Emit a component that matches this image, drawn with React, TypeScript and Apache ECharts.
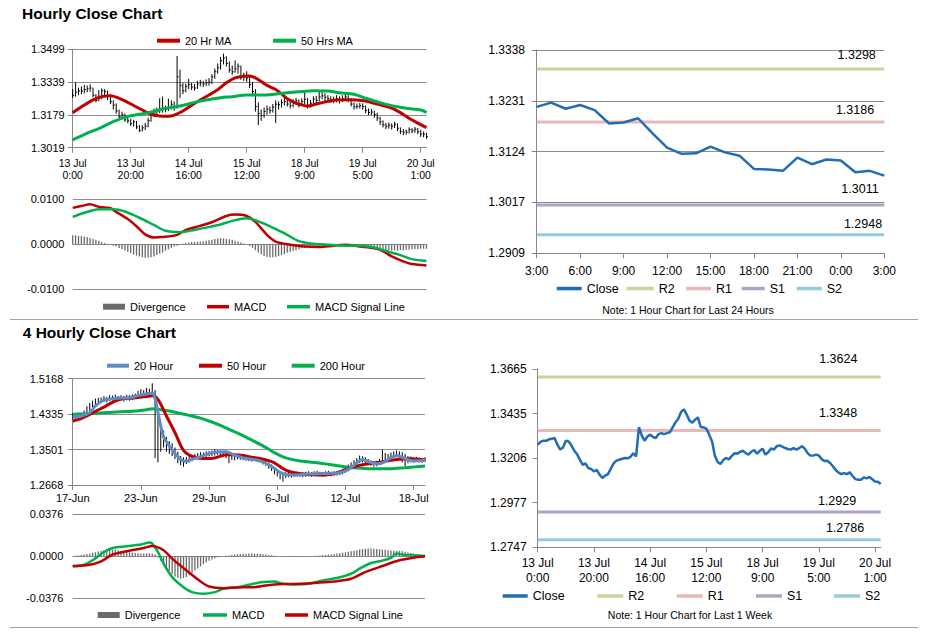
import React, { useEffect, useRef } from "react";
import * as echarts from "echarts";

// ---------------- DATA ----------------
// Hourly (1 week) axis labels, every 20 hourly bars
const weekLabels = ["13 Jul\n0:00", "13 Jul\n20:00", "14 Jul\n16:00", "15 Jul\n12:00", "18 Jul\n9:00", "19 Jul\n5:00", "20 Jul\n1:00"];
// hourly close, 13 Jul 0:00 -> 20 Jul ~3:00
const closeWeek = [
  1.3275, 1.3290, 1.3296, 1.3295, 1.3303, 1.3306, 1.3310, 1.3275, 1.3250, 1.3261,
  1.3296, 1.3292, 1.3272, 1.3244, 1.3227, 1.3198, 1.3172, 1.3179, 1.3155, 1.3150,
  1.3138, 1.3145, 1.3121, 1.3104, 1.3116, 1.3124, 1.3152, 1.3179, 1.3193, 1.3198,
  1.3203, 1.3207, 1.3205, 1.3213, 1.3231, 1.3215, 1.3365, 1.3323, 1.3296, 1.3317,
  1.3327, 1.3315, 1.3310, 1.3330, 1.3335, 1.3330, 1.3335, 1.3339, 1.3365, 1.3390,
  1.3409, 1.3444, 1.3457, 1.3430, 1.3399, 1.3389, 1.3404, 1.3416, 1.3365, 1.3365,
  1.3358, 1.3327, 1.3293, 1.3220, 1.3186, 1.3176, 1.3196, 1.3207, 1.3200, 1.3217,
  1.3231, 1.3229, 1.3238, 1.3244, 1.3232, 1.3224, 1.3239, 1.3248, 1.3229, 1.3244,
  1.3255, 1.3224, 1.3236, 1.3256, 1.3250, 1.3267, 1.3272, 1.3265, 1.3258, 1.3253,
  1.3250, 1.3258, 1.3250, 1.3258, 1.3267, 1.3255, 1.3232, 1.3219, 1.3220, 1.3224,
  1.3220, 1.3201, 1.3191, 1.3193, 1.3181, 1.3164, 1.3145, 1.3131, 1.3124, 1.3129,
  1.3124, 1.3133, 1.3114, 1.3098, 1.3095, 1.3095, 1.3107, 1.3102, 1.3109, 1.3097,
  1.3086, 1.3085, 1.3073,
];
const highWeek = [
  1.3305, 1.3338, 1.3312, 1.3318, 1.3325, 1.3322, 1.3328, 1.3312, 1.3280, 1.3300,
  1.3308, 1.3305, 1.3298, 1.3278, 1.3250, 1.3235, 1.3205, 1.3195, 1.3186, 1.3168,
  1.3160, 1.3155, 1.3150, 1.3130, 1.3128, 1.3140, 1.3165, 1.3190, 1.3210, 1.3215,
  1.3260, 1.3268, 1.3225, 1.3258, 1.3250, 1.3245, 1.3466, 1.3400, 1.3335, 1.3332,
  1.3355, 1.3335, 1.3330, 1.3345, 1.3350, 1.3345, 1.3352, 1.3358, 1.3378, 1.3405,
  1.3430, 1.3462, 1.3478, 1.3465, 1.3440, 1.3420, 1.3445, 1.3430, 1.3420, 1.3385,
  1.3392, 1.3372, 1.3340, 1.3305, 1.3240, 1.3205, 1.3215, 1.3225, 1.3220, 1.3232,
  1.3250, 1.3245, 1.3255, 1.3262, 1.3255, 1.3245, 1.3255, 1.3262, 1.3255, 1.3260,
  1.3290, 1.3262, 1.3252, 1.3270, 1.3272, 1.3300, 1.3290, 1.3285, 1.3275, 1.3270,
  1.3268, 1.3275, 1.3270, 1.3275, 1.3282, 1.3275, 1.3260, 1.3240, 1.3235, 1.3238,
  1.3235, 1.3225, 1.3210, 1.3208, 1.3200, 1.3190, 1.3170, 1.3152, 1.3140, 1.3142,
  1.3138, 1.3145, 1.3138, 1.3118, 1.3110, 1.3108, 1.3118, 1.3115, 1.3120, 1.3115,
  1.3105, 1.3098, 1.3092,
];
const lowWeek = [
  1.3262, 1.3268, 1.3275, 1.3280, 1.3284, 1.3290, 1.3292, 1.3265, 1.3240, 1.3245,
  1.3255, 1.3270, 1.3252, 1.3232, 1.3205, 1.3185, 1.3160, 1.3158, 1.3145, 1.3138,
  1.3125, 1.3122, 1.3110, 1.3095, 1.3098, 1.3105, 1.3118, 1.3145, 1.3170, 1.3180,
  1.3188, 1.3190, 1.3192, 1.3198, 1.3205, 1.3200, 1.3210, 1.3262, 1.3280, 1.3290,
  1.3305, 1.3300, 1.3298, 1.3305, 1.3318, 1.3315, 1.3320, 1.3322, 1.3330, 1.3355,
  1.3380, 1.3400, 1.3425, 1.3415, 1.3385, 1.3375, 1.3385, 1.3380, 1.3350, 1.3345,
  1.3340, 1.3310, 1.3270, 1.3195, 1.3130, 1.3150, 1.3165, 1.3180, 1.3185, 1.3190,
  1.3140, 1.3205, 1.3215, 1.3225, 1.3220, 1.3210, 1.3215, 1.3228, 1.3215, 1.3222,
  1.3230, 1.3210, 1.3215, 1.3228, 1.3235, 1.3245, 1.3255, 1.3245, 1.3240, 1.3238,
  1.3235, 1.3240, 1.3235, 1.3242, 1.3248, 1.3240, 1.3220, 1.3205, 1.3208, 1.3210,
  1.3205, 1.3188, 1.3178, 1.3178, 1.3165, 1.3150, 1.3130, 1.3118, 1.3110, 1.3112,
  1.3108, 1.3115, 1.3100, 1.3085, 1.3080, 1.3082, 1.3088, 1.3090, 1.3092, 1.3085,
  1.3072, 1.3070, 1.3062,
];
const ma20HrIdx = [0, 4, 7, 10, 13, 15, 18, 21, 24, 27, 30, 33, 35, 38, 41, 44, 47, 50, 53, 56, 59, 61, 63, 65, 67, 70, 72, 74, 77, 79, 81, 83, 85, 88, 91, 95, 98, 101, 104, 107, 110, 113, 116, 119, 122];
const ma20Hr = [1.3190, 1.3227, 1.3252, 1.3268, 1.3273, 1.3266, 1.3247, 1.3225, 1.3203, 1.3182, 1.3174, 1.3172, 1.3178, 1.3198, 1.3226, 1.3252, 1.3276, 1.3302, 1.3336, 1.3360, 1.3368, 1.3369, 1.3360, 1.3342, 1.3323, 1.3303, 1.3282, 1.3258, 1.3237, 1.3228, 1.3222, 1.3228, 1.3236, 1.3245, 1.3252, 1.3253, 1.3252, 1.3247, 1.3235, 1.3225, 1.3212, 1.3190, 1.3163, 1.3139, 1.3117];
const ma50HrIdx = [0, 5, 9, 14, 19, 23, 28, 32, 37, 42, 46, 51, 55, 60, 65, 69, 74, 78, 83, 88, 92, 97, 101, 106, 111, 115, 120, 122];
const ma50Hr = [1.3057, 1.3090, 1.3112, 1.3146, 1.3172, 1.3182, 1.3196, 1.3211, 1.3222, 1.3240, 1.3252, 1.3263, 1.3268, 1.3276, 1.3276, 1.3279, 1.3287, 1.3292, 1.3297, 1.3296, 1.3287, 1.3280, 1.3260, 1.3239, 1.3221, 1.3211, 1.3203, 1.3190];
const macdHrIdx = [0, 3, 6, 9, 13, 15, 19, 22, 25, 28, 31, 36, 39, 44, 48, 53, 56, 60, 63, 67, 70, 75, 80, 85, 90, 94, 99, 104, 107, 110, 114, 117, 122];
const macdHr = [0.0081, 0.0085, 0.0089, 0.0083, 0.0080, 0.0072, 0.0056, 0.0040, 0.0022, 0.0015, 0.0016, 0.0021, 0.0032, 0.0041, 0.0049, 0.0063, 0.0066, 0.0063, 0.0050, 0.0021, 0.0006, -0.0001, -0.0005, -0.0006, -0.0003, -0.0001, -0.0005, -0.0009, -0.0015, -0.0027, -0.0038, -0.0044, -0.0047];
const signalHrIdx = [0, 4, 9, 14, 18, 23, 28, 32, 37, 42, 46, 51, 55, 60, 64, 69, 74, 78, 83, 88, 94, 99, 104, 108, 113, 117, 122];
const signalHr = [0.0061, 0.0070, 0.0078, 0.0078, 0.0073, 0.0059, 0.0043, 0.0030, 0.0027, 0.0032, 0.0037, 0.0044, 0.0052, 0.0058, 0.0051, 0.0037, 0.0021, 0.0007, 0.0001, -0.0001, -0.0003, -0.0003, -0.0007, -0.0015, -0.0024, -0.0033, -0.0037];
const divergenceHr = [
  0.0020, 0.0020, 0.0019, 0.0018, 0.0017, 0.0016, 0.0014, 0.0012, 0.0010, 0.0008,
  0.0005, 0.0003, 0.0001, -0.0001, -0.0003, -0.0005, -0.0008, -0.0011, -0.0014, -0.0017,
  -0.0020, -0.0023, -0.0025, -0.0027, -0.0029, -0.0030, -0.0030, -0.0029, -0.0027, -0.0024,
  -0.0021, -0.0018, -0.0014, -0.0011, -0.0008, -0.0005, -0.0003, -0.0001, 0.0001, 0.0003,
  0.0004, 0.0005, 0.0005, 0.0006, 0.0006, 0.0007, 0.0008, 0.0009, 0.0010, 0.0012,
  0.0013, 0.0014, 0.0013, 0.0012, 0.0011, 0.0010, 0.0008, 0.0006, 0.0004, 0.0002,
  0.0000, -0.0004, -0.0008, -0.0013, -0.0018, -0.0022, -0.0026, -0.0028, -0.0029, -0.0029,
  -0.0028, -0.0026, -0.0024, -0.0022, -0.0019, -0.0017, -0.0015, -0.0013, -0.0011, -0.0009,
  -0.0008, -0.0007, -0.0006, -0.0006, -0.0005, -0.0005, -0.0004, -0.0004, -0.0003, -0.0003,
  -0.0003, -0.0002, -0.0002, -0.0002, -0.0002, -0.0002, -0.0003, -0.0003, -0.0004, -0.0005,
  -0.0006, -0.0007, -0.0008, -0.0009, -0.0010, -0.0011, -0.0012, -0.0013, -0.0013, -0.0014,
  -0.0014, -0.0014, -0.0014, -0.0013, -0.0013, -0.0012, -0.0012, -0.0011, -0.0011, -0.0011,
  -0.0010, -0.0010, -0.0010,
];

// last 24 hours
const dayLabels = ["3:00", "6:00", "9:00", "12:00", "15:00", "18:00", "21:00", "0:00", "3:00"];
const close24 = [1.3218, 1.3227, 1.3214, 1.3222, 1.3211, 1.3183, 1.3185, 1.3194, 1.3162, 1.3132, 1.3119, 1.3120, 1.3134, 1.3122, 1.3115, 1.3087, 1.3086, 1.3083, 1.3111, 1.3097, 1.3107, 1.3105, 1.3080, 1.3083, 1.3073];
const levelNames = ["R2", "R1", "S1", "S2"];
const levels24 = [1.3298, 1.3186, 1.3011, 1.2948];
const levelsWeek = [1.3624, 1.3348, 1.2929, 1.2786];

// 4-hourly
const dateLabels4h = ["17-Jun", "23-Jun", "29-Jun", "6-Jul", "12-Jul", "18-Jul"];
const high4h = [
  1.4360, 1.4350, 1.4370, 1.4365, 1.4420, 1.4520, 1.4600, 1.4650, 1.4700, 1.4720,
  1.4730, 1.4760, 1.4740, 1.4780, 1.4770, 1.4790, 1.4760, 1.4780, 1.4760, 1.4790,
  1.4780, 1.4800, 1.4820, 1.4880, 1.4920, 1.4900, 1.4950, 1.4930, 1.5060, 1.4900,
  1.4450, 1.4100, 1.3950, 1.3800, 1.3700, 1.3650, 1.3550, 1.3450, 1.3350, 1.3320,
  1.3330, 1.3350, 1.3380, 1.3400, 1.3420, 1.3440, 1.3430, 1.3460, 1.3470, 1.3480,
  1.3510, 1.3490, 1.3480, 1.3470, 1.3450, 1.3430, 1.3400, 1.3390, 1.3370, 1.3360,
  1.3350, 1.3340, 1.3330, 1.3320, 1.3340, 1.3320, 1.3310, 1.3300, 1.3250, 1.3200,
  1.3150, 1.3080, 1.3020, 1.2980, 1.2950, 1.2970, 1.2980, 1.2960, 1.2970, 1.2980,
  1.2970, 1.2960, 1.2980, 1.2990, 1.2970, 1.2990, 1.3000, 1.2980, 1.2970, 1.2990,
  1.3000, 1.2980, 1.2990, 1.3000, 1.3020, 1.3050, 1.3100, 1.3150, 1.3200, 1.3250,
  1.3300, 1.3360, 1.3340, 1.3320, 1.3280, 1.3250, 1.3230, 1.3240, 1.3280, 1.3500,
  1.3420, 1.3400, 1.3430, 1.3460, 1.3480, 1.3460, 1.3440, 1.3400, 1.3350, 1.3340,
  1.3320, 1.3330, 1.3310, 1.3300, 1.3320,
];
const low4h = [
  1.4205, 1.4220, 1.4250, 1.4260, 1.4290, 1.4330, 1.4400, 1.4480, 1.4540, 1.4580,
  1.4600, 1.4620, 1.4610, 1.4640, 1.4650, 1.4660, 1.4640, 1.4650, 1.4630, 1.4660,
  1.4650, 1.4670, 1.4690, 1.4720, 1.4760, 1.4750, 1.4780, 1.4760, 1.4800, 1.3300,
  1.3200, 1.3450, 1.3550, 1.3450, 1.3400, 1.3350, 1.3280, 1.3180, 1.3130, 1.3100,
  1.3160, 1.3200, 1.3230, 1.3270, 1.3300, 1.3300, 1.3320, 1.3330, 1.3340, 1.3350,
  1.3360, 1.3380, 1.3350, 1.3340, 1.3300, 1.3180, 1.3260, 1.3250, 1.3270, 1.3260,
  1.3250, 1.3240, 1.3230, 1.3220, 1.3230, 1.3210, 1.3200, 1.3150, 1.3120, 1.3050,
  1.3000, 1.2920, 1.2870, 1.2800, 1.2750, 1.2830, 1.2850, 1.2840, 1.2860, 1.2870,
  1.2860, 1.2850, 1.2860, 1.2870, 1.2860, 1.2880, 1.2880, 1.2870, 1.2860, 1.2870,
  1.2890, 1.2870, 1.2880, 1.2890, 1.2900, 1.2920, 1.2960, 1.3000, 1.3050, 1.3080,
  1.3120, 1.3180, 1.3200, 1.3180, 1.3130, 1.3120, 1.3100, 1.3110, 1.3150, 1.3200,
  1.3250, 1.3260, 1.3280, 1.3300, 1.3320, 1.3300, 1.3200, 1.3100, 1.3180, 1.3200,
  1.3200, 1.3210, 1.3200, 1.3190, 1.3210,
];
const ma20_4hIdx = [0, 3, 6, 8, 11, 14, 17, 20, 23, 26, 28, 29, 30, 31, 32, 34, 36, 38, 40, 42, 45, 48, 51, 54, 57, 60, 63, 66, 69, 71, 73, 76, 79, 82, 86, 90, 94, 97, 100, 102, 104, 106, 108, 110, 112, 114, 116, 118, 120, 122, 124];
const ma20_4h = [1.4270, 1.4290, 1.4370, 1.4530, 1.4665, 1.4695, 1.4715, 1.4720, 1.4770, 1.4810, 1.4830, 1.4690, 1.4380, 1.4050, 1.3800, 1.3590, 1.3410, 1.3270, 1.3225, 1.3270, 1.3335, 1.3410, 1.3445, 1.3450, 1.3370, 1.3305, 1.3275, 1.3235, 1.3140, 1.3060, 1.2965, 1.2905, 1.2905, 1.2925, 1.2935, 1.2940, 1.2955, 1.3030, 1.3190, 1.3265, 1.3220, 1.3175, 1.3165, 1.3220, 1.3310, 1.3360, 1.3320, 1.3260, 1.3235, 1.3240, 1.3245];
const ma50_4hIdx = [0, 3, 5, 8, 11, 14, 17, 20, 23, 26, 28, 30, 33, 36, 39, 42, 46, 50, 54, 57, 60, 63, 66, 69, 71, 73, 75, 78, 82, 86, 89, 92, 95, 98, 101, 104, 108, 112, 116, 119, 122, 124];
const ma50_4h = [1.4172, 1.4230, 1.4290, 1.4400, 1.4500, 1.4610, 1.4690, 1.4710, 1.4725, 1.4750, 1.4765, 1.4680, 1.4290, 1.3900, 1.3480, 1.3340, 1.3290, 1.3305, 1.3380, 1.3380, 1.3360, 1.3320, 1.3290, 1.3240, 1.3190, 1.3100, 1.3020, 1.2955, 1.2920, 1.2905, 1.2905, 1.2935, 1.3000, 1.3074, 1.3130, 1.3165, 1.3205, 1.3250, 1.3280, 1.3286, 1.3275, 1.3254];
const ma200_4hIdx = [0, 5, 11, 17, 22, 26, 28, 31, 34, 38, 41, 45, 48, 52, 55, 59, 62, 66, 69, 71, 74, 77, 80, 84, 88, 91, 95, 99, 103, 107, 111, 114, 117, 121, 124];
const ma200_4h = [1.4330, 1.4345, 1.4369, 1.4390, 1.4408, 1.4440, 1.4463, 1.4440, 1.4408, 1.4350, 1.4306, 1.4240, 1.4173, 1.4070, 1.3977, 1.3860, 1.3758, 1.3624, 1.3510, 1.3428, 1.3330, 1.3270, 1.3235, 1.3205, 1.3172, 1.3145, 1.3105, 1.3074, 1.3058, 1.3050, 1.3050, 1.3060, 1.3074, 1.3095, 1.3115];
const macd4hIdx = [0, 4, 7, 11, 14, 19, 24, 27, 28, 30, 32, 35, 39, 42, 46, 50, 53, 58, 62, 67, 71, 74, 79, 84, 88, 93, 98, 101, 105, 108, 112, 114, 116, 120, 124];
const macd4h = [-0.0087, -0.0075, -0.0036, 0.0039, 0.0075, 0.0090, 0.0105, 0.0123, 0.0114, 0.0039, -0.0066, -0.0186, -0.0276, -0.0321, -0.0336, -0.0321, -0.0291, -0.0276, -0.0255, -0.0231, -0.0225, -0.0246, -0.0252, -0.0243, -0.0216, -0.0195, -0.0156, -0.0111, -0.0060, -0.0045, -0.0015, 0.0024, 0.0015, 0.0009, 0.0003];
const signal4hIdx = [0, 6, 10, 14, 19, 25, 28, 32, 35, 40, 45, 48, 53, 58, 64, 68, 74, 80, 86, 92, 98, 103, 109, 115, 120, 124];
const signal4h = [-0.0090, -0.0075, -0.0045, 0.0015, 0.0045, 0.0075, 0.0093, 0.0054, -0.0021, -0.0126, -0.0225, -0.0270, -0.0285, -0.0279, -0.0276, -0.0261, -0.0249, -0.0246, -0.0237, -0.0225, -0.0201, -0.0141, -0.0087, -0.0036, -0.0012, 0.0000];
const divergence4h = [
  0.0003, 0.0005, 0.0008,
  0.0012, 0.0016, 0.0020, 0.0025, 0.0030, 0.0036, 0.0042, 0.0048,
  0.0054, 0.0058, 0.0060, 0.0060, 0.0058, 0.0055, 0.0050, 0.0045, 0.0040, 0.0036,
  0.0032, 0.0030, 0.0028, 0.0026, 0.0025, 0.0026, 0.0028, 0.0025, 0.0015,
  -0.0010, -0.0040, -0.0070, -0.0100, -0.0130, -0.0160, -0.0180, -0.0195, -0.0200, -0.0195, -0.0185,
  -0.0170, -0.0150, -0.0130, -0.0110, -0.0090, -0.0070, -0.0055, -0.0040, -0.0028, -0.0018, -0.0010, -0.0004, 0.0000, 0.0004, 0.0008,
  0.0012, 0.0015, 0.0018, 0.0020, 0.0022, 0.0023, 0.0024, 0.0024, 0.0023, 0.0022, 0.0020, 0.0018, 0.0015, 0.0012, 0.0009,
  0.0006, 0.0003, 0.0001, -0.0001, -0.0003, -0.0004, -0.0005, -0.0005, -0.0004, -0.0003, -0.0002, -0.0001, 0.0000, 0.0002, 0.0004, 0.0006, 0.0008, 0.0010, 0.0012, 0.0014,
  0.0017, 0.0020, 0.0024, 0.0028, 0.0032, 0.0036, 0.0040, 0.0045, 0.0050, 0.0055, 0.0060, 0.0065, 0.0068, 0.0070, 0.0070, 0.0068, 0.0065, 0.0062, 0.0060, 0.0058,
  0.0055, 0.0052, 0.0050, 0.0050, 0.0048, 0.0045, 0.0040, 0.0035, 0.0030, 0.0025, 0.0020, 0.0015, 0.0010, 0.0006,
];

// y-axis tick labels
const yTicksHourly = ["1.3019", "1.3179", "1.3339", "1.3499"];
const yTicksMacdHourly = ["-0.0100", "0.0000", "0.0100"];
const yTicks24 = ["1.2909", "1.3017", "1.3124", "1.3231", "1.3338"];
const yTicks4h = ["1.2668", "1.3501", "1.4335", "1.5168"];
const yTicksMacd4h = ["-0.0376", "0.0000", "0.0376"];
const yTicksWeek = ["1.2747", "1.2977", "1.3206", "1.3435", "1.3665"];

// ---------------- STYLE ----------------
const FONT = "'Liberation Sans', Arial, Helvetica, sans-serif";
const AXIS = "#868686";
const GRIDC = "#8c8c8c";
const RED = "#c00000";
const GREEN = "#00b050";
const BLUE20 = "#5f8bc8";
const CLOSE = "#1f6db5";
const DIV = "#6a6a6a";
const levelColors = ["#c3d69b", "#e6b9b8", "#b3a2c7", "#93cddd"];
const levelLabelOffsets24 = [[-27.6, -13.6], [-29.3, -12.3], [-24.3, -16], [-21.3, -11]];
const levelLabelOffsetsWeek = [[-42.4, -18.3], [-42.7, -17.7], [-43.7, -10.6], [-35.7, -12]];

const strip = (n: string) => n.split("|")[0];
const pairs = (idx: number[], vals: number[]) => idx.map((x, k) => [x, vals[k]]);
const seq = (vals: number[]) => vals.map((v, i) => [i, v]);

function yAxis(gridIndex: number, ticks: string[], o: any) {
  const min = parseFloat(ticks[0]);
  const max = parseFloat(ticks[ticks.length - 1]);
  const n = ticks.length - 1;
  return {
    type: "value", gridIndex, min, max, interval: ((max - min) / n) * (1 + 1e-9),
    axisLine: { show: !!o.axisLine, lineStyle: { color: AXIS, width: 1 } },
    axisTick: { show: !!o.axisLine, length: 5, lineStyle: { color: AXIS } },
    axisLabel: {
      formatter: (v: number) => ticks[Math.round(((v - min) / (max - min)) * n)] ?? "",
      fontSize: o.fontSize, margin: o.margin, color: "#000", fontFamily: FONT,
    },
    splitLine: { show: !!o.split, lineStyle: { color: GRIDC, width: 1 } },
  };
}

function xAxis(gridIndex: number, max: number, step: number, labels: string[], o: any) {
  const vals = labels.map((_, k) => k * step);
  return {
    type: "value", gridIndex, min: 0, max,
    axisLine: { show: true, onZero: false, lineStyle: { color: AXIS, width: 1 } },
    axisTick: { show: true, length: 5, customValues: vals, lineStyle: { color: AXIS } },
    axisLabel: {
      customValues: vals,
      formatter: (v: number) => labels[Math.round(v / step)] ?? "",
      fontSize: o.fontSize, lineHeight: o.lineHeight, margin: o.margin, color: "#000", fontFamily: FONT,
    },
    splitLine: { show: false },
  };
}

function leg(name: string, left: number, cy: number, w: number, h: number, fs: number) {
  return {
    data: [name], left, top: cy - fs / 2, icon: "rect", itemWidth: w, itemHeight: h, padding: 0,
    selectedMode: false, formatter: strip,
    textStyle: { fontSize: fs, color: "#000", fontFamily: FONT },
  };
}

function lineS(name: string, ax: number, data: any[], color: string, width: number, z = 3) {
  return {
    type: "line", name, xAxisIndex: ax, yAxisIndex: ax, data, color, symbol: "none",
    smooth: 0.3, lineStyle: { color, width }, z, silent: true,
  };
}

function levelS(name: string, ax: number, lv: number, maxX: number, color: string, offset: number[]) {
  return {
    type: "line", name, xAxisIndex: ax, yAxisIndex: ax, data: [[0, lv], [maxX, lv]], color,
    symbol: "none", lineStyle: { color, width: 3 }, z: 2, silent: true,
    markPoint: {
      silent: true, symbol: "circle", symbolSize: 1, itemStyle: { color: "rgba(0,0,0,0)" },
      data: [{ coord: [maxX, lv], value: lv }],
      label: { show: true, position: "inside", offset, formatter: lv.toFixed(4), color: "#000", fontSize: 12.5, fontFamily: FONT },
    },
  };
}

const hlRender = (withClose: boolean) => (params: any, api: any) => {
  const x = api.value(0);
  const lo = api.coord([x, api.value(1)]);
  const hi = api.coord([x, api.value(2)]);
  const children: any[] = [
    { type: "line", shape: { x1: lo[0], y1: lo[1], x2: hi[0], y2: hi[1] }, style: { stroke: "#000", lineWidth: 1 } },
  ];
  if (withClose) {
    const c = api.coord([x, api.value(3)]);
    children.push({ type: "line", shape: { x1: c[0], y1: c[1], x2: c[0] + 1.5, y2: c[1] }, style: { stroke: "#000", lineWidth: 1 } });
  }
  return { type: "group", children };
};

function buildOption() {
  const grid = [
    { left: 72.7, top: 49.3, width: 353.8, height: 98.4 },
    { left: 72.7, top: 199.3, width: 353.8, height: 90 },
    { left: 536.7, top: 50, width: 347.6, height: 203.3 },
    { left: 72.7, top: 378.7, width: 352.3, height: 106.3 },
    { left: 72.7, top: 514.3, width: 352.3, height: 84 },
    { left: 537.7, top: 369, width: 343, height: 178.3 },
  ];
  const xAxes = [
    xAxis(0, 122, 20, weekLabels, { fontSize: 10.5, lineHeight: 12.5, margin: 9 }),
    { type: "value", gridIndex: 1, min: 0, max: 122, show: false },
    xAxis(2, 24, 3, dayLabels, { fontSize: 12, lineHeight: 12, margin: 11.7 }),
    xAxis(3, 124, 24, dateLabels4h, { fontSize: 11, lineHeight: 11, margin: 7.8 }),
    { type: "value", gridIndex: 4, min: 0, max: 124, show: false },
    xAxis(5, 122, 20, weekLabels, { fontSize: 12, lineHeight: 14.4, margin: 8.8 }),
  ];
  const yAxes = [
    yAxis(0, yTicksHourly, { axisLine: true, split: true, fontSize: 11, margin: 8 }),
    yAxis(1, yTicksMacdHourly, { axisLine: false, split: true, fontSize: 11, margin: 8.4 }),
    yAxis(2, yTicks24, { axisLine: true, split: true, fontSize: 12, margin: 11.7 }),
    yAxis(3, yTicks4h, { axisLine: true, split: true, fontSize: 11, margin: 9.4 }),
    yAxis(4, yTicksMacd4h, { axisLine: false, split: true, fontSize: 11, margin: 9.4 }),
    yAxis(5, yTicksWeek, { axisLine: true, split: false, fontSize: 12, margin: 11 }),
  ];

  const series: any[] = [
    // A: hourly bars + MAs
    {
      type: "custom", name: "bars1h", xAxisIndex: 0, yAxisIndex: 0, silent: true, z: 1,
      data: closeWeek.map((c, i) => [i, lowWeek[i], highWeek[i], c]),
      encode: { x: 0, y: [1, 2] }, renderItem: hlRender(true),
    },
    lineS("20 Hr MA|A", 0, pairs(ma20HrIdx, ma20Hr), RED, 3),
    lineS("50 Hrs MA|A", 0, pairs(ma50HrIdx, ma50Hr), GREEN, 3),
    // B: hourly MACD
    { type: "bar", name: "Divergence|B", xAxisIndex: 1, yAxisIndex: 1, data: seq(divergenceHr), barWidth: 1.3, color: DIV, itemStyle: { color: DIV }, silent: true },
    lineS("MACD|B", 1, pairs(macdHrIdx, macdHr), RED, 2.5),
    lineS("MACD Signal Line|B", 1, pairs(signalHrIdx, signalHr), GREEN, 2.5),
    // C: last 24 hours
    ...levelNames.map((nm, k) => levelS(nm + "|C", 2, levels24[k], 24, levelColors[k], levelLabelOffsets24[k])),
    { ...lineS("Close|C", 2, seq(close24), CLOSE, 2.5, 4), smooth: false },
    // D: 4-hourly
    {
      type: "custom", name: "bars4h", xAxisIndex: 3, yAxisIndex: 3, silent: true, z: 1,
      data: high4h.map((h, i) => [i, low4h[i], h]),
      encode: { x: 0, y: [1, 2] }, renderItem: hlRender(false),
    },
    lineS("200 Hour|D", 3, pairs(ma200_4hIdx, ma200_4h), GREEN, 3),
    lineS("50 Hour|D", 3, pairs(ma50_4hIdx, ma50_4h), RED, 3),
    lineS("20 Hour|D", 3, pairs(ma20_4hIdx, ma20_4h), BLUE20, 3, 4),
    // E: 4-hourly MACD
    { type: "bar", name: "Divergence|E", xAxisIndex: 4, yAxisIndex: 4, data: seq(divergence4h), barWidth: 1.3, color: DIV, itemStyle: { color: DIV }, silent: true },
    lineS("MACD|E", 4, pairs(macd4hIdx, macd4h), GREEN, 2.5),
    lineS("MACD Signal Line|E", 4, pairs(signal4hIdx, signal4h), RED, 2.5),
    // F: last week
    ...levelNames.map((nm, k) => levelS(nm + "|F", 5, levelsWeek[k], 122, levelColors[k], levelLabelOffsetsWeek[k])),
    { ...lineS("Close|F", 5, seq(closeWeek), CLOSE, 2.5, 4), smooth: false },
  ];

  const legend = [
    leg("20 Hr MA|A", 157, 40.7, 23, 4, 11),
    leg("50 Hrs MA|A", 273, 40.7, 23, 4, 11),
    leg("Divergence|B", 103, 306.7, 22, 6, 11),
    leg("MACD|B", 207, 306.7, 22, 3.5, 11),
    leg("MACD Signal Line|B", 287, 306.7, 23, 3.5, 11),
    leg("Close|C", 556.7, 288.3, 25, 3.5, 12.5),
    leg("R2|C", 626.7, 288.3, 27, 3.5, 12.5),
    leg("R1|C", 686, 288.3, 25, 3.5, 12.5),
    leg("S1|C", 741.7, 288.3, 23, 3.5, 12.5),
    leg("S2|C", 796.7, 288.3, 25, 3.5, 12.5),
    leg("20 Hour|D", 107, 365.7, 22, 4, 11),
    leg("50 Hour|D", 199, 365.7, 23, 4, 11),
    leg("200 Hour|D", 291.7, 365.7, 23, 4, 11),
    leg("Divergence|E", 97.7, 615, 22, 6, 11),
    leg("MACD|E", 203, 615, 24, 3.5, 11),
    leg("MACD Signal Line|E", 285, 615, 23, 3.5, 11),
    leg("Close|F", 502.7, 595.7, 25, 3.5, 12.5),
    leg("R2|F", 597.3, 595.7, 26, 3.5, 12.5),
    leg("R1|F", 676.7, 595.7, 26, 3.5, 12.5),
    leg("S1|F", 756, 595.7, 26, 3.5, 12.5),
    leg("S2|F", 834, 595.7, 26, 3.5, 12.5),
  ];

  const titleStyle = { fontSize: 15.5, fontWeight: "bold", color: "#000", fontFamily: FONT };
  return {
    animation: false,
    backgroundColor: "#fff",
    title: [
      { text: "Hourly Close Chart", left: 22, top: 5.5, padding: 0, textStyle: titleStyle },
      { text: "4 Hourly Close Chart", left: 22.7, top: 324.7, padding: 0, textStyle: titleStyle },
    ],
    grid, xAxis: xAxes, yAxis: yAxes, series, legend,
    graphic: [
      { type: "text", x: 688, y: 310.3, silent: true, style: { text: "Note: 1 Hour Chart for Last 24 Hours", fontSize: 10.5, fontFamily: FONT, fill: "#000", textAlign: "center", textVerticalAlign: "middle", verticalAlign: "middle" } },
      { type: "text", x: 690, y: 615, silent: true, style: { text: "Note: 1 Hour Chart for Last 1 Week", fontSize: 10.5, fontFamily: FONT, fill: "#000", textAlign: "center", textVerticalAlign: "middle", verticalAlign: "middle" } },
      { type: "line", silent: true, shape: { x1: 10, y1: 319.5, x2: 918, y2: 319.5 }, style: { stroke: "#a6a6a6", lineWidth: 1 } },
      { type: "line", silent: true, shape: { x1: 10, y1: 627.5, x2: 918, y2: 627.5 }, style: { stroke: "#a6a6a6", lineWidth: 1 } },
    ],
  };
}

export default function App() {
  const ref = useRef<HTMLDivElement>(null);
  useEffect(() => {
    if (!ref.current) return;
    const chart = echarts.init(ref.current, undefined, { renderer: "svg" });
    chart.setOption(buildOption() as any);
    return () => chart.dispose();
  }, []);
  return (
    <div
      ref={ref}
      style={{ position: "absolute", left: 0, top: 0, width: 928, height: 638, background: "#fff" }}
    />
  );
}
